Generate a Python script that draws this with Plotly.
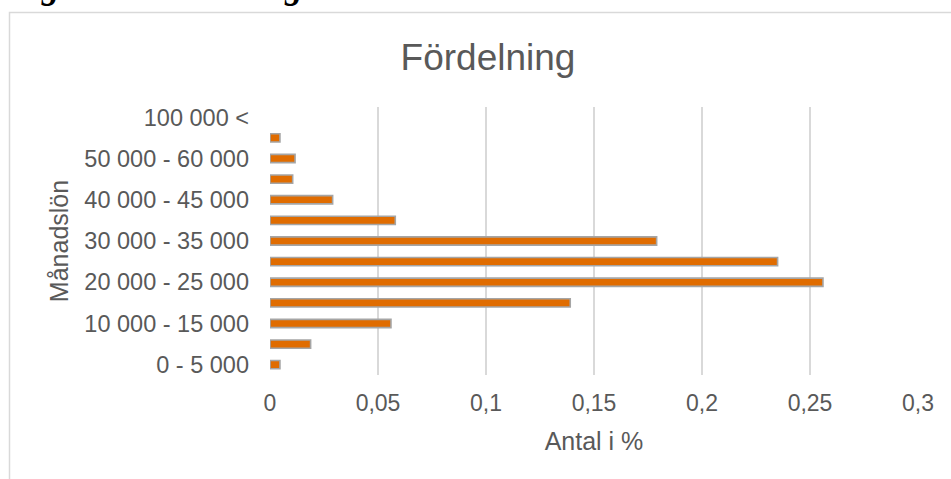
import plotly.graph_objects as go

# Salary bands (monthly salary, SEK) and share of employees in each band
categories = [
    "0 - 5 000", "5 000 - 10 000", "10 000 - 15 000", "15 000 - 20 000",
    "20 000 - 25 000", "25 000 - 30 000", "30 000 - 35 000", "35 000 - 40 000",
    "40 000 - 45 000", "45 000 - 50 000", "50 000 - 60 000", "60 000 - 100 000",
    "100 000 <",
]
shares = [0.0046, 0.0188, 0.056, 0.139, 0.256, 0.235, 0.179, 0.058,
          0.029, 0.0105, 0.0116, 0.0046, 0.0]
shown_labels = categories[::2]
x_ticks = [0, 0.05, 0.1, 0.15, 0.2, 0.25, 0.3]

W, H = 951, 479
L, R, T, B = 270, 33, 107, 104
pw, ph = W - L - R, H - T - B


def px_to_paper_x(px):
    return (px - L) / pw


def px_to_paper_y(py):
    return (H - B - py) / ph


text_col = "#595959"
grid_col = "#d9d9d9"
font_family = "Liberation Sans, Arial, sans-serif"

# empty bands get no outline so nothing is drawn for them
outline_widths = [1.6 if v > 0 else 0 for v in shares]

fig = go.Figure(
    go.Bar(
        x=shares,
        y=categories,
        orientation="h",
        width=0.4,
        marker=dict(color="#e06c00", line=dict(color="#a5a5a5", width=outline_widths)),
        hoverinfo="x+y",
    )
)

fig.update_layout(
    width=W,
    height=H,
    margin=dict(l=L, r=R, t=T, b=B),
    paper_bgcolor="white",
    plot_bgcolor="white",
    separators=", ",
    showlegend=False,
    font=dict(family=font_family, color=text_col, size=24),
    title=dict(
        text="Fördelning",
        x=488 / W,
        xanchor="center",
        y=1 - 57 / H,
        yanchor="middle",
        font=dict(size=37, color=text_col),
    ),
    xaxis=dict(
        range=[0, 0.3],
        tickvals=x_ticks,
        showgrid=True,
        gridcolor=grid_col,
        gridwidth=1.5,
        zeroline=False,
        showline=False,
        ticks="",
        ticklabelstandoff=12,
        tickfont=dict(size=23, color=text_col),
        title=dict(text="Antal i %", font=dict(size=25, color=text_col), standoff=17),
        fixedrange=True,
    ),
    yaxis=dict(
        type="category",
        categoryorder="array",
        categoryarray=categories,
        range=[-0.5, len(categories) - 0.5],
        tickvals=shown_labels,
        ticktext=shown_labels,
        showgrid=False,
        zeroline=False,
        showline=False,
        ticks="",
        ticklabelstandoff=20,
        tickfont=dict(size=23.5, color=text_col),
        title=dict(text="Månadslön", font=dict(size=25, color=text_col), standoff=8),
        fixedrange=True,
    ),
)

# Light frame around the chart area (left and top edges)
fig.add_shape(
    type="path",
    xref="paper",
    yref="paper",
    path=(
        f"M {px_to_paper_x(9.5)} {px_to_paper_y(H + 5)} "
        f"L {px_to_paper_x(9.5)} {px_to_paper_y(12.5)} "
        f"L {px_to_paper_x(W + 5)} {px_to_paper_y(12.5)}"
    ),
    line=dict(color=grid_col, width=1.5),
    layer="below",
)

# Figure caption above the frame
fig.add_annotation(
    text="<b><i>Figur 1: Fördelning</i></b>",
    xref="paper",
    yref="paper",
    x=px_to_paper_x(6),
    y=px_to_paper_y(8),
    xanchor="left",
    yanchor="bottom",
    showarrow=False,
    font=dict(family="Liberation Serif, serif", size=35, color="black"),
)

fig.write_html("out.html")
